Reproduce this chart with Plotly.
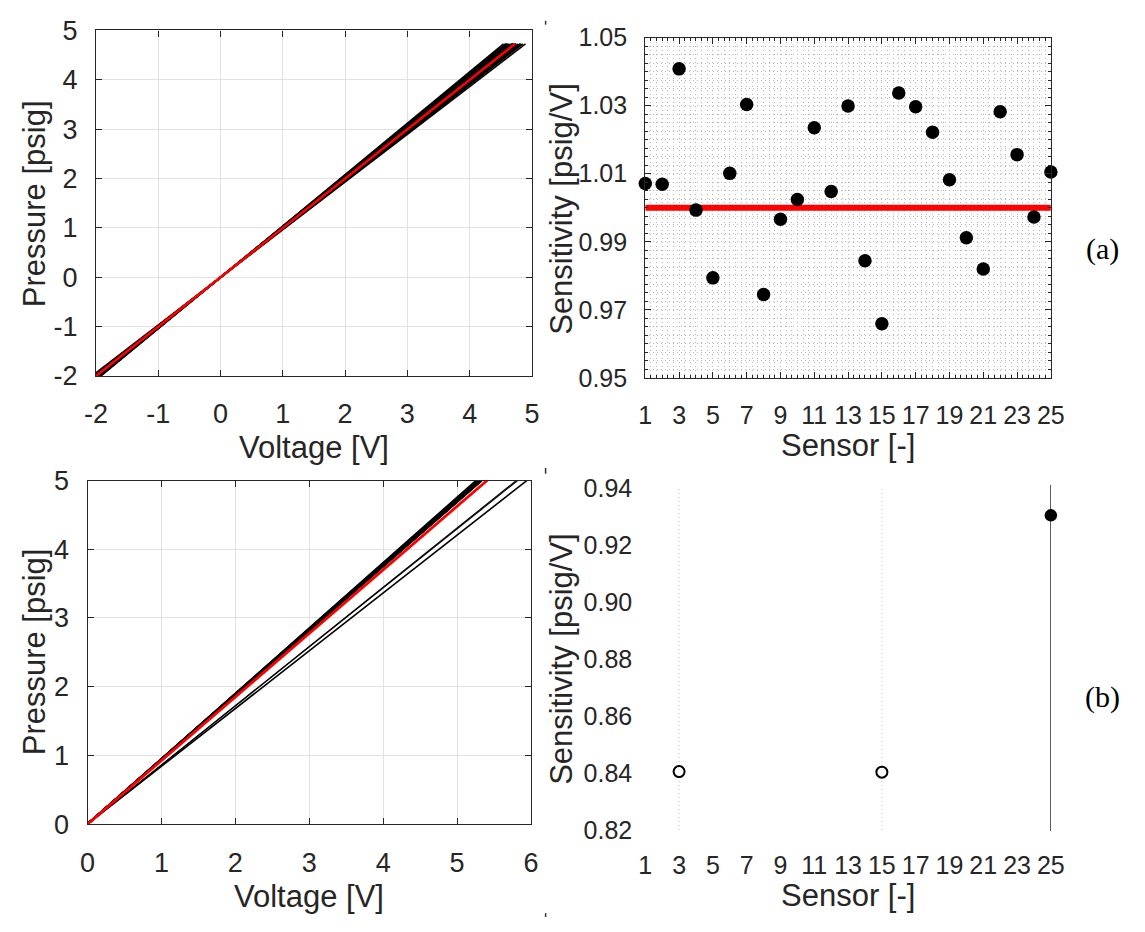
import plotly.graph_objects as go

# ---------------- data ----------------
sensors = list(range(1, 26))
# (a) sensitivities of the 25 sensors [psig/V]
sensitivity_a = [1.0071, 1.0069, 1.0408, 0.9993, 0.9794, 1.0101, 1.0303, 0.9745,
                 0.9966, 1.0024, 1.0235, 1.0048, 1.0299, 0.9844, 0.9659, 1.0337,
                 1.0297, 1.0222, 1.0082, 0.9912, 0.9820, 1.0282, 1.0156, 0.9973,
                 1.0105]
nominal_a = 1.0
pressure_span_a = [-2.1, 4.73]   # psig, calibration span of (a)

# (b) calibration slopes [psig/V]
bundle_b = [0.951, 0.949, 0.948, 0.947, 0.946, 0.946, 0.945, 0.944, 0.944, 0.943,
            0.943, 0.942, 0.942, 0.941, 0.941, 0.940, 0.940, 0.939, 0.939, 0.938,
            0.938, 0.937]
nominal_b = 0.925
thin_b = [0.862, 0.859]
low_b = [0.841]
pressure_span_b = [0.0, 5.3]     # psig

open_sensors_b = [3, 15]
open_sens_b = [0.8405, 0.8403]
fill_sensors_b = [25]
fill_sens_b = [0.9305]
stem_sens_b = [0.8195, 0.9412]
guide_sens_b = [0.82, 0.94]

x_ticks_sensor = list(range(1, 26, 2))
v_ticks_a = [-2, -1, 0, 1, 2, 3, 4, 5]
v_ticklabels_a = ["-2", "-1", "0", "1", "2", "3", "4", "5"]
sens_ticks_b = [0.82, 0.84, 0.86, 0.88, 0.90, 0.92, 0.94]

# ---------------- geometry helpers ----------------
W, H = 1145, 932
def dx(a, b):
    return [a / W, b / W]
def dy(top, bottom):
    return [1 - bottom / H, 1 - top / H]

FONT = "Liberation Sans, Arial, sans-serif"
INK = "#262626"
tickfont = dict(family=FONT, size=27, color=INK)
tickfont_s = dict(family=FONT, size=25, color=INK)

fig = go.Figure()

# ---- top-left: calibration lines (a)
for s in sensitivity_a:
    v = [p / s for p in pressure_span_a]
    fig.add_trace(go.Scatter(x=v, y=pressure_span_a, mode="lines",
                             line=dict(color="black", width=1.6),
                             xaxis="x", yaxis="y", showlegend=False))
fig.add_trace(go.Scatter(x=[p / nominal_a for p in pressure_span_a], y=pressure_span_a,
                         mode="lines", line=dict(color="#ff0000", width=2.6),
                         xaxis="x", yaxis="y", showlegend=False))

# ---- top-right: sensitivity scatter (a)
fig.add_trace(go.Scatter(x=[sensors[0], sensors[-1]], y=[nominal_a, nominal_a],
                         mode="lines", line=dict(color="#ff0000", width=6),
                         xaxis="x2", yaxis="y2", showlegend=False))
fig.add_trace(go.Scatter(x=sensors, y=sensitivity_a, mode="markers",
                         marker=dict(color="black", size=13.5),
                         cliponaxis=False,
                         xaxis="x2", yaxis="y2", showlegend=False))

# ---- bottom-left: calibration lines (b)
for s in bundle_b:
    fig.add_trace(go.Scatter(x=[p / s for p in pressure_span_b], y=pressure_span_b,
                             mode="lines", line=dict(color="black", width=1.8),
                             xaxis="x3", yaxis="y3", showlegend=False))
for s in thin_b:
    fig.add_trace(go.Scatter(x=[p / s for p in pressure_span_b], y=pressure_span_b,
                             mode="lines", line=dict(color="black", width=1.1),
                             xaxis="x3", yaxis="y3", showlegend=False))
for s in low_b:
    fig.add_trace(go.Scatter(x=[p / s for p in pressure_span_b], y=pressure_span_b,
                             mode="lines", line=dict(color="black", width=1.6),
                             xaxis="x3", yaxis="y3", showlegend=False))
fig.add_trace(go.Scatter(x=[p / nominal_b for p in pressure_span_b], y=pressure_span_b,
                         mode="lines", line=dict(color="#ff0000", width=2.8),
                         xaxis="x3", yaxis="y3", showlegend=False))

# ---- bottom-right: sensitivity (b)
for sx in open_sensors_b:
    fig.add_trace(go.Scatter(x=[sx, sx], y=guide_sens_b, mode="lines",
                             line=dict(color="#bdbdbd", width=1, dash="1px,3px"),
                             xaxis="x4", yaxis="y4", showlegend=False))
fig.add_trace(go.Scatter(x=[fill_sensors_b[0], fill_sensors_b[0]], y=stem_sens_b,
                         mode="lines", line=dict(color="black", width=1.2),
                         xaxis="x4", yaxis="y4", showlegend=False))
fig.add_trace(go.Scatter(x=open_sensors_b, y=open_sens_b, mode="markers",
                         marker=dict(color="white", size=11, line=dict(color="black", width=2)),
                         xaxis="x4", yaxis="y4", showlegend=False))
fig.add_trace(go.Scatter(x=fill_sensors_b, y=fill_sens_b, mode="markers",
                         marker=dict(color="black", size=12.5), cliponaxis=False,
                         xaxis="x4", yaxis="y4", showlegend=False))

# ---------------- axes ----------------
box_common = dict(showline=True, linecolor=INK, linewidth=1.2, mirror="ticks",
                  ticks="inside", ticklen=6, tickcolor=INK, tickwidth=1.2,
                  zeroline=False)
grid_solid = dict(showgrid=True, gridcolor="#e1e1e1", gridwidth=1.3)
dot_grid = dict(showgrid=True, gridcolor="#b8b8b8", gridwidth=1, griddash="1px,3px")

layout = dict(
    width=W, height=H, margin=dict(l=0, r=0, t=0, b=0),
    paper_bgcolor="white", plot_bgcolor="white", showlegend=False,
    xaxis=dict(domain=dx(86, 532), range=[-2, 5], tickvals=v_ticks_a,
               ticktext=v_ticklabels_a, tickfont=tickfont,
               anchor="y", ticklabelstandoff=14, **box_common, **grid_solid),
    yaxis=dict(domain=dy(16, 373), range=[-2, 5], tickvals=v_ticks_a,
               ticktext=v_ticklabels_a, tickfont=tickfont,
               anchor="x", ticklabelstandoff=12, **box_common, **grid_solid),
    xaxis2=dict(domain=dx(648, 1063), range=[1, 25], tickvals=x_ticks_sensor,
                tickfont=tickfont_s, anchor="y2", ticklabelstandoff=15,
                minor=dict(dtick=1 / 3, tick0=1, ticks="inside", ticklen=3,
                           tickcolor=INK, **dot_grid),
                **box_common, **dot_grid),
    yaxis2=dict(domain=dy(23.3, 375), range=[0.95, 1.05], dtick=0.02, tick0=0.95,
                tickformat=".2f", tickfont=tickfont_s, anchor="x2", ticklabelstandoff=12,
                minor=dict(dtick=0.0025, tick0=0.95, ticks="inside", ticklen=3,
                           tickcolor=INK, **dot_grid),
                **box_common, **dot_grid),
    xaxis3=dict(domain=dx(77.3, 531), range=[0, 6], dtick=1, tick0=0,
                tickfont=tickfont,
                anchor="y3", ticklabelstandoff=14, **box_common, **grid_solid),
    yaxis3=dict(domain=dy(481, 836), range=[0, 5], dtick=1, tick0=0,
                tickfont=tickfont,
                anchor="x3", ticklabelstandoff=12, **box_common, **grid_solid),
    xaxis4=dict(domain=dx(648, 1063), range=[1, 25], tickvals=x_ticks_sensor,
                anchor="y4", showline=False, ticks="", showgrid=False, zeroline=False,
                tickfont=tickfont_s, ticklabelstandoff=17),
    yaxis4=dict(domain=dy(485.5, 843.5), range=[stem_sens_b[0], stem_sens_b[1]],
                tickvals=sens_ticks_b, tickformat=".2f",
                anchor="x4", showline=False, ticks="", showgrid=False, zeroline=False,
                tickfont=tickfont_s, ticklabelstandoff=12),
)

title_font = dict(family=FONT, size=31, color=INK)
serif_font = dict(family="Liberation Serif, Times New Roman, serif", size=30, color="black")
def ann(x, y, text, rot=0, font=title_font):
    return dict(x=x / W, y=1 - y / H, xref="paper", yref="paper", text=text,
                showarrow=False, textangle=rot, font=font,
                xanchor="center", yanchor="middle")

layout["annotations"] = [
    ann(23, 195, "Pressure [psig]", -90),
    ann(309, 447, "Voltage [V]"),
    ann(562, 200, "Sensitivity [psig/V]", -90),
    ann(855, 445, "Sensor [-]"),
    ann(23, 658, "Pressure [psig]", -90),
    ann(304, 911, "Voltage [V]"),
    ann(562, 665, "Sensitivity [psig/V]", -90),
    ann(855, 910, "Sensor [-]"),
    ann(1116, 242, "(a)", font=serif_font),
    ann(1116, 705, "(b)", font=serif_font),
]

# tiny crop marks present at the panel seams of the reference
layout["shapes"] = [
    dict(type="line", xref="paper", yref="paper", x0=546 / W, x1=546 / W,
         y0=1 - 10 / H, y1=1 - 6 / H, line=dict(color="#333333", width=1.5)),
    dict(type="line", xref="paper", yref="paper", x0=546 / W, x1=546 / W,
         y0=1 - 474 / H, y1=1 - 468 / H, line=dict(color="#333333", width=1.5)),
    dict(type="line", xref="paper", yref="paper", x0=546 / W, x1=546 / W,
         y0=0, y1=1 - 928 / H, line=dict(color="#333333", width=1.5)),
]

fig.update_layout(**layout)
fig.write_html("out.html")
